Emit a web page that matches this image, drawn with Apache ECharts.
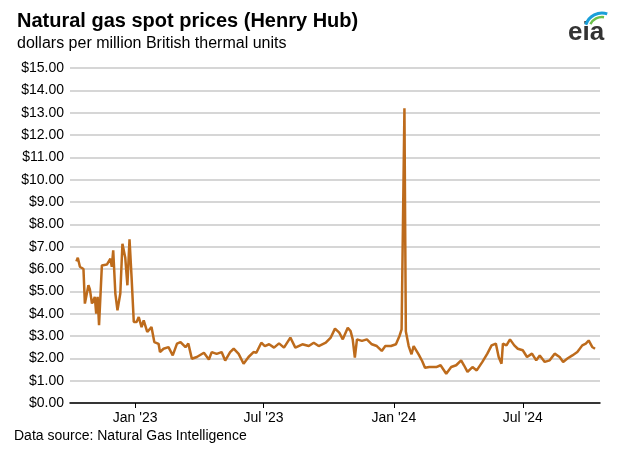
<!DOCTYPE html>
<html>
<head>
<meta charset="utf-8">
<script src="https://cdn.jsdelivr.net/npm/echarts@6/dist/echarts.min.js"></script>
<style>body{margin:0;background:#fff}#chart{width:626px;height:473px}</style>
</head>
<body>
<div id="chart"></div>
<script>
// Henry Hub spot price, $/MMBtu
var dates = ['2022-10-10','2022-10-12','2022-10-15','2022-10-20','2022-10-22','2022-10-27','2022-10-29','2022-11-01','2022-11-05','2022-11-07','2022-11-09','2022-11-11','2022-11-15','2022-11-17','2022-11-22','2022-11-27','2022-11-29','2022-12-01','2022-12-04','2022-12-07','2022-12-11','2022-12-14','2022-12-18','2022-12-21','2022-12-24','2022-12-27','2022-12-30',
 '2023-01-03','2023-01-06','2023-01-10','2023-01-13','2023-01-18','2023-01-24','2023-01-28','2023-02-03','2023-02-05','2023-02-10','2023-02-17','2023-02-23','2023-03-01','2023-03-06','2023-03-13','2023-03-17','2023-03-22','2023-03-29','2023-04-08','2023-04-15','2023-04-19','2023-04-26','2023-05-03','2023-05-08','2023-05-15','2023-05-20','2023-05-27','2023-06-03','2023-06-10','2023-06-17','2023-06-21','2023-06-28',
 '2023-07-03','2023-07-09','2023-07-16','2023-07-23','2023-07-30','2023-08-08','2023-08-15','2023-08-25','2023-09-03','2023-09-10','2023-09-17','2023-09-27','2023-10-04','2023-10-10','2023-10-16','2023-10-21','2023-10-28','2023-11-01','2023-11-04','2023-11-07','2023-11-10','2023-11-17','2023-11-24','2023-12-01','2023-12-08','2023-12-15','2023-12-20','2023-12-28',
 '2024-01-04','2024-01-09','2024-01-12','2024-01-16','2024-01-17','2024-01-18','2024-01-22','2024-01-26','2024-01-29','2024-02-05','2024-02-10','2024-02-14','2024-02-20','2024-03-01','2024-03-07','2024-03-15','2024-03-22','2024-03-29','2024-04-05','2024-04-09','2024-04-14','2024-04-21','2024-04-27','2024-05-05','2024-05-12','2024-05-18','2024-05-24','2024-05-28','2024-06-01','2024-06-03','2024-06-08','2024-06-13','2024-06-19','2024-06-24','2024-07-01','2024-07-07','2024-07-14','2024-07-20','2024-07-25','2024-08-01','2024-08-08','2024-08-15','2024-08-22','2024-08-27','2024-09-02','2024-09-09','2024-09-16','2024-09-23','2024-09-28','2024-10-02','2024-10-07','2024-10-11'];
var prices = [6.34,6.5,6.1,6.0,4.45,5.27,5.1,4.45,4.75,4.0,4.75,3.48,6.16,6.24,6.2,6.46,6.1,6.84,4.9,4.15,4.9,7.13,6.5,5.27,7.33,5.57,3.63,
 3.63,3.85,3.4,3.7,3.18,3.4,2.73,2.65,2.28,2.43,2.5,2.13,2.66,2.73,2.5,2.66,1.98,2.06,2.25,1.95,2.28,2.2,2.28,1.9,2.28,2.43,2.2,1.76,2.06,2.28,2.25,2.7,
 2.55,2.63,2.48,2.67,2.48,2.93,2.48,2.63,2.55,2.7,2.55,2.7,2.93,3.33,3.15,2.85,3.37,3.22,2.85,2.03,2.85,2.78,2.85,2.63,2.55,2.33,2.55,2.55,
 2.63,3.0,3.3,13.2,8.0,3.2,2.55,2.18,2.55,2.18,1.88,1.58,1.61,1.61,1.69,1.31,1.61,1.69,1.91,1.69,1.39,1.61,1.46,1.84,2.21,2.58,2.66,2.06,1.76,2.66,2.58,2.85,2.58,2.43,2.36,2.06,2.21,1.91,2.13,1.84,1.91,2.21,2.06,1.84,1.99,2.13,2.28,2.58,2.66,2.8,2.51,2.43];
var tickDates = ['2023-01-01','2023-07-01','2024-01-01','2024-07-01'];
var tickLabels = ["Jan '23","Jul '23","Jan '24","Jul '24"];

function ts(d){ return Date.UTC(+d.slice(0,4), +d.slice(5,7) - 1, +d.slice(8,10)); }
var tickTimes = tickDates.map(ts);
var seriesData = dates.map(function(d, i){ return [ts(d), prices[i]]; });

var myChart = echarts.init(document.getElementById('chart'));
var option = {
    animation: false,
    textStyle: { fontFamily: 'Liberation Sans, Arial, sans-serif' },
    title: {
        text: 'Natural gas spot prices (Henry Hub)',
        subtext: 'dollars per million British thermal units',
        left: 12, top: 6, itemGap: 5,
        textStyle: { fontSize: 20, fontWeight: 'bold', color: '#000' },
        subtextStyle: { fontSize: 16, color: '#000' }
    },
    graphic: [
        { type: 'text', left: 14, top: 429, style: { text: 'Data source: Natural Gas Intelligence', fill: '#000', font: '14px Liberation Sans' } },
        { type: 'text', left: 568, top: 20, style: { text: 'eia', font: 'bold 26px Liberation Sans', fill: '#333' } },
        { type: 'arc', shape: { cx: 602, cy: 30, r: 17, startAngle: Math.PI * 1.1, endAngle: Math.PI * 1.6 }, style: { stroke: '#1a9fd9', lineWidth: 3, fill: null } },
        { type: 'arc', shape: { cx: 602, cy: 30, r: 13, startAngle: Math.PI * 1.15, endAngle: Math.PI * 1.55 }, style: { stroke: '#6cc04a', lineWidth: 2.5, fill: null } }
    ],
    grid: { left: 70, right: 26, top: 68, bottom: 70 },
    xAxis: {
        type: 'value',
        min: ts('2022-10-01'),
        max: ts('2024-10-18'),
        axisLine: { lineStyle: { color: '#000', width: 1.5 } },
        axisTick: { customValues: tickTimes, length: 5, lineStyle: { color: '#000' } },
        axisLabel: {
            customValues: tickTimes,
            fontSize: 14, color: '#000', margin: 8,
            formatter: function(v){ return tickLabels[tickTimes.indexOf(v)] || ''; }
        },
        splitLine: { show: false }
    },
    yAxis: {
        type: 'value', min: 0, max: 15, interval: 1,
        axisLine: { show: false }, axisTick: { show: false },
        axisLabel: { fontSize: 14, color: '#000', margin: 6, formatter: function(v){ return '$' + v.toFixed(2); } },
        splitLine: { lineStyle: { color: '#c8c8c8', width: 1.5 } }
    },
    series: [{
        type: 'line', data: seriesData, showSymbol: false,
        lineStyle: { color: '#bd6b1c', width: 2.5 }
    }]
};
myChart.setOption(option);
</script>
</body>
</html>
